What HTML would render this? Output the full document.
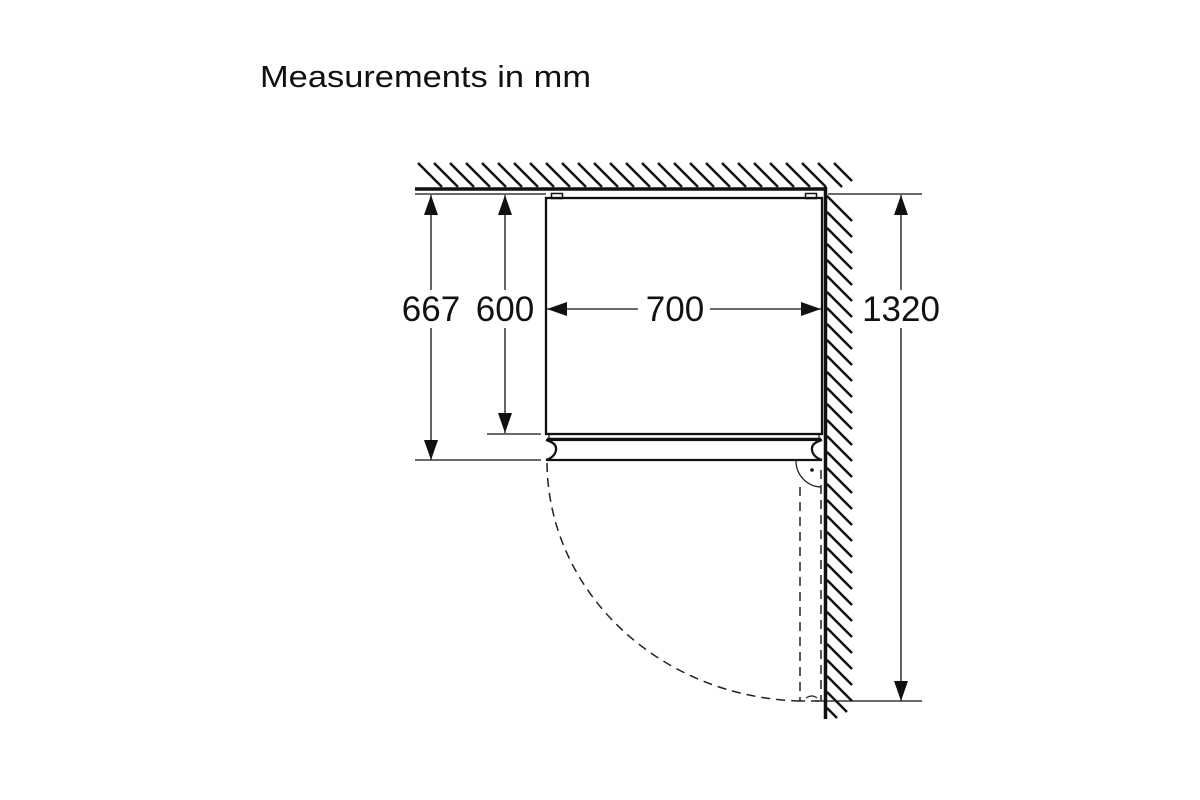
<!DOCTYPE html>
<html><head><meta charset="utf-8"><style>
html,body{margin:0;padding:0;background:#fff;width:1200px;height:800px;overflow:hidden}
svg{display:block}
text{font-family:"Liberation Sans",Arial,sans-serif;fill:#111}
</style></head><body>
<svg width="1200" height="800" viewBox="0 0 1200 800" xmlns="http://www.w3.org/2000/svg">
<defs>
<marker id="ah" viewBox="0 0 20 14" refX="20" refY="7" markerWidth="20" markerHeight="14" markerUnits="userSpaceOnUse" orient="auto">
<path d="M0,0 L20,7 L0,14 z" fill="#111"/>
</marker>
</defs>
<text x="260" y="87" font-size="31" textLength="331" lengthAdjust="spacingAndGlyphs">Measurements in mm</text>

<g stroke="#111" stroke-width="2.4">
<path d="M418,163 l24,24 M434,163 l24,24 M450,163 l24,24 M466,163 l24,24 M482,163 l24,24 M498,163 l24,24 M514,163 l24,24 M530,163 l24,24 M546,163 l24,24 M562,163 l24,24 M578,163 l24,24 M594,163 l24,24 M610,163 l24,24 M626,163 l24,24 M642,163 l24,24 M658,163 l24,24 M674,163 l24,24 M690,163 l24,24 M706,163 l24,24 M722,163 l24,24 M738,163 l24,24 M754,163 l24,24 M770,163 l24,24 M786,163 l24,24 M802,163 l24,24 M818,163 l24,24 M834,163 l18,18"/>
<path d="M827,196 l25,25 M827,212 l25,25 M827,228 l25,25 M827,244 l25,25 M827,260 l25,25 M827,276 l25,25 M827,292 l25,25 M827,308 l25,25 M827,324 l25,25 M827,340 l25,25 M827,356 l25,25 M827,372 l25,25 M827,388 l25,25 M827,404 l25,25 M827,420 l25,25 M827,436 l25,25 M827,452 l25,25 M827,468 l25,25 M827,484 l25,25 M827,500 l25,25 M827,516 l25,25 M827,532 l25,25 M827,548 l25,25 M827,564 l25,25 M827,580 l25,25 M827,596 l25,25 M827,612 l25,25 M827,628 l25,25 M827,644 l25,25 M827,660 l25,25 M827,676 l25,25 M827,692 l20,20 M827,708 l10,10"/>
</g>
<line x1="415" y1="189" x2="827" y2="189" stroke="#111" stroke-width="3.5"/>
<line x1="825.5" y1="187" x2="825.5" y2="719" stroke="#111" stroke-width="3.5"/>

<g stroke="#111" stroke-width="1.2" fill="none">
<line x1="415" y1="194" x2="546" y2="194"/>
<line x1="828" y1="194" x2="922" y2="194"/>
<line x1="487" y1="434" x2="541" y2="434"/>
<line x1="415" y1="460" x2="541" y2="460"/>
<line x1="815" y1="701" x2="922" y2="701"/>
</g>

<g stroke="#111" fill="none">
<rect x="551.5" y="193.5" width="11" height="5" stroke-width="1.5"/>
<rect x="805.5" y="193.5" width="11" height="5" stroke-width="1.5"/>
<rect x="546" y="198" width="276" height="236" stroke-width="2.3"/>
<line x1="547" y1="438.5" x2="821" y2="438.5" stroke-width="1.5"/>
<line x1="549" y1="434" x2="549" y2="439" stroke-width="1.2"/>
<line x1="819" y1="434" x2="819" y2="439" stroke-width="1.2"/>
<path d="M546,440 L822,440 M546,460 L822,460" stroke-width="2.3"/>
<path d="M546,440 Q557,443 556,450 Q555,457 546,460" stroke-width="2.3"/>
<path d="M822,440 Q811,443 812,450 Q813,457 822,460" stroke-width="2.3"/>
</g>

<g stroke="#222" stroke-width="1.5" fill="none" stroke-dasharray="9,6">
<path d="M547,463 A260 240 0 0 0 800,701"/>
<path d="M800,487 L800,701 L819,701"/>
<path d="M821,470 L821,701"/>
</g>
<path d="M796,461 A26 26 0 0 0 821,487" stroke="#222" stroke-width="1.3" fill="none"/>
<path d="M806,698 Q812,694 817,698" stroke="#222" stroke-width="1.3" fill="none"/>
<circle cx="812" cy="470" r="1.8" fill="#111"/>

<g stroke="#111" stroke-width="1.3" fill="none">
<line x1="431" y1="290" x2="431" y2="195" marker-end="url(#ah)"/>
<line x1="431" y1="328" x2="431" y2="460" marker-end="url(#ah)"/>
<line x1="505" y1="290" x2="505" y2="195" marker-end="url(#ah)"/>
<line x1="505" y1="328" x2="505" y2="433" marker-end="url(#ah)"/>
<line x1="638" y1="309" x2="547" y2="309" marker-end="url(#ah)"/>
<line x1="710" y1="309" x2="821" y2="309" marker-end="url(#ah)"/>
<line x1="901" y1="290" x2="901" y2="195" marker-end="url(#ah)"/>
<line x1="901" y1="328" x2="901" y2="701" marker-end="url(#ah)"/>
</g>

<g font-size="35" text-anchor="middle">
<text x="431" y="321">667</text>
<text x="505" y="321">600</text>
<text x="675" y="321">700</text>
<text x="901" y="321">1320</text>
</g>
</svg>
</body></html>
